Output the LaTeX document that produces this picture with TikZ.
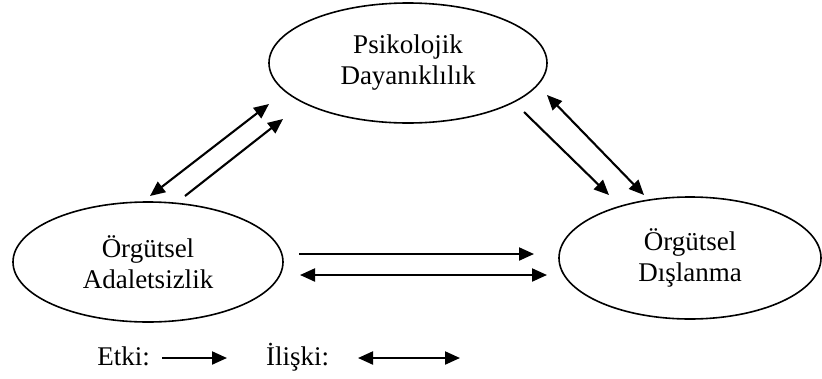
\documentclass[tikz,border=0pt]{standalone}
\usepackage{fontspec}
\setmainfont{Liberation Serif}
\usetikzlibrary{shapes.geometric,arrows.meta}
\begin{document}
\begin{tikzpicture}[x=1pt,y=-1pt,
  oval/.style={draw,ellipse,line width=1.6pt,inner sep=0pt,align=center,
    font=\fontsize{27}{31}\selectfont},
  conn/.style={line width=2.1pt},
  onehead/.style={conn,-{Triangle[length=15pt,width=13pt]}},
  twohead/.style={conn,{Triangle[length=15pt,width=13pt]}-{Triangle[length=15pt,width=13pt]}},
  lbl/.style={font=\fontsize{27}{31}\selectfont,inner sep=0pt}]
\useasboundingbox (0,0) rectangle (822,378);
\node[oval,minimum width=278pt,minimum height=120pt] (psy) at (408,63) {Psikolojik\\Dayanıklılık};
\node[oval,minimum width=270pt,minimum height=120pt] (adl) at (148,262) {Örgütsel\\Adaletsizlik};
\node[oval,minimum width=262pt,minimum height=122pt] (dis) at (690,258) {Örgütsel\\Dışlanma};
% left pair
\coordinate (a1s) at (150,196); \coordinate (a1e) at (269,104);
\coordinate (a2s) at (185,196); \coordinate (a2e) at (283,119);
\draw[twohead] (a1s) -- (a1e);
\draw[onehead] (a2s) -- (a2e);
% right pair
\coordinate (b1s) at (524,112); \coordinate (b1e) at (609,195);
\coordinate (b2s) at (547,95); \coordinate (b2e) at (644,195);
\draw[onehead] (b1s) -- (b1e);
\draw[twohead] (b2s) -- (b2e);
% horizontal pair
\coordinate (c1s) at (299,254); \coordinate (c1e) at (534,254);
\coordinate (c2s) at (300,275); \coordinate (c2e) at (547,275);
\draw[onehead] (c1s) -- (c1e);
\draw[twohead] (c2s) -- (c2e);
% legend
\node[lbl,anchor=base east] (etki) at (150,365) {Etki:};
\coordinate (l1s) at (162,358); \coordinate (l1e) at (227,358);
\draw[onehead] (l1s) -- (l1e);
\node[lbl,anchor=base west] (iliski) at (266,365) {İlişki:};
\coordinate (l2s) at (358,358); \coordinate (l2e) at (460,358);
\draw[twohead] (l2s) -- (l2e);
\end{tikzpicture}
\end{document}
